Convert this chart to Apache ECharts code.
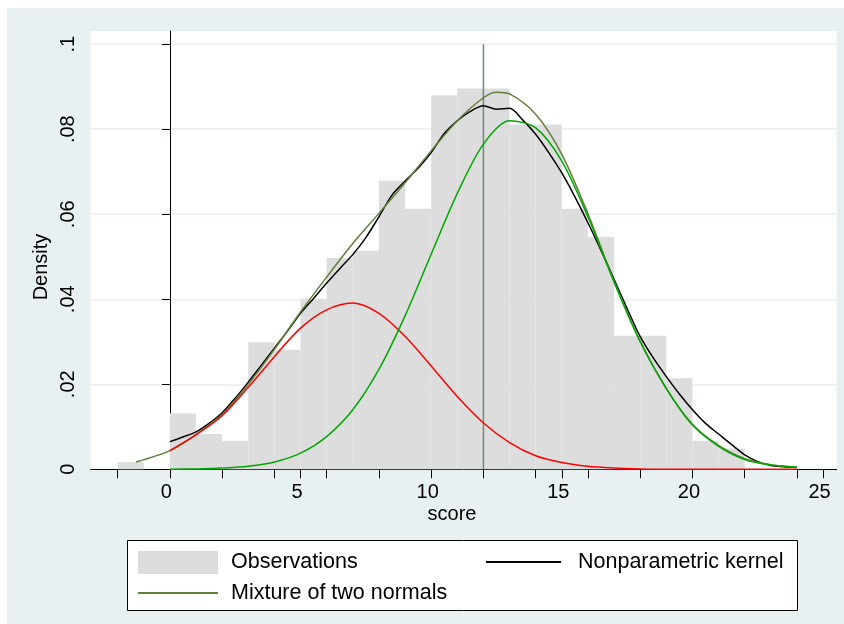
<!DOCTYPE html>
<html>
<head>
<meta charset="utf-8">
<script src="https://cdn.jsdelivr.net/npm/echarts@6/dist/echarts.min.js"></script>
<style>
html,body{margin:0;padding:0;background:#ffffff;}
#wrap{position:relative;width:844px;height:624px;background:#ffffff;}
#bg{position:absolute;left:7px;top:8px;right:0;bottom:0;background:#E9F0F2;}
#chart{position:absolute;left:0;top:0;width:844px;height:624px;}
</style>
</head>
<body>
<div id="wrap"><div id="bg"></div><div id="chart"></div></div>
<script>
// Histogram bins (score), density heights
const binLeft   = [-2, 0, 1, 2, 3, 4, 5, 6, 7, 8, 9, 10, 11, 12, 13, 14, 15, 16, 17, 18, 19, 20, 21];
const binRight  = [-1, 1, 2, 3, 4, 5, 6, 7, 8, 9, 10, 11, 12, 13, 14, 15, 16, 17, 18, 19, 20, 21, 22];
const binHeight = [0.0017, 0.0132, 0.0083, 0.0067, 0.0299, 0.0281, 0.0401, 0.0497, 0.0514, 0.0679, 0.0613,
                   0.0880, 0.0896, 0.0896, 0.0811, 0.0811, 0.0613, 0.0547, 0.0314, 0.0314, 0.0214, 0.0067, 0.0049];

// Nonparametric kernel density
const kernelX = [0, 0.5, 1, 1.5, 2, 2.5, 3, 3.5, 4, 4.5, 5, 5.5, 6, 6.5, 7, 7.5, 8, 8.5, 9, 9.5, 10, 10.5, 11, 11.5,
                 12, 12.5, 13, 13.5, 14, 14.5, 15, 15.5, 16, 16.5, 17, 17.5, 18, 18.5, 19, 19.5, 20, 20.5, 21, 21.5,
                 22, 22.5, 23, 23.5, 24];
const kernelY = [0.0065, 0.0076, 0.0088, 0.0108, 0.0133, 0.0167, 0.0205, 0.0245, 0.0285, 0.0325, 0.0367, 0.0402,
                 0.0438, 0.0472, 0.0505, 0.0545, 0.0594, 0.0645, 0.0678, 0.0708, 0.0745, 0.0790, 0.0820, 0.0842,
                 0.0855, 0.0847, 0.0849, 0.0822, 0.0788, 0.0745, 0.0697, 0.0641, 0.0580, 0.0515, 0.0447, 0.0378,
                 0.0312, 0.0262, 0.0218, 0.0177, 0.0140, 0.0108, 0.0083, 0.0058, 0.0034, 0.0018, 0.0009, 0.0006, 0.0004];

// Mixture of two normals
const mixtureX = [-1.3, 0, 1, 2, 3, 4, 5, 6, 7, 8, 9, 10, 11, 12, 12.5, 13, 14, 15, 16, 17, 18, 19, 20, 21, 22, 23, 24];
const mixtureY = [0.0017, 0.0044, 0.0082, 0.0129, 0.0200, 0.0282, 0.0370, 0.0452, 0.0531, 0.0602, 0.0674, 0.0749,
                  0.0820, 0.0874, 0.0887, 0.0883, 0.0835, 0.0741, 0.0601, 0.0443, 0.0301, 0.0190, 0.0106, 0.0056,
                  0.0025, 0.0011, 0.0005];

// Components
const compX  = [0, 1, 2, 3, 4, 5, 6, 7, 8, 9, 10, 11, 12, 13, 14, 15, 16, 17, 18, 19, 20, 21, 22, 23, 24];
const comp1Y = [0.0044, 0.0081, 0.0126, 0.0193, 0.0265, 0.0332, 0.0375, 0.0391, 0.0367, 0.0313, 0.0243, 0.0171,
                0.0109, 0.0063, 0.0032, 0.0016, 0.0007, 0.0003, 0.0001, 0, 0, 0, 0, 0, 0];
const comp2Y = [0.0000, 0.0001, 0.0003, 0.0007, 0.0017, 0.0038, 0.0077, 0.0140, 0.0235, 0.0361, 0.0506, 0.0649,
                0.0765, 0.0820, 0.0803, 0.0725, 0.0594, 0.0440, 0.0300, 0.0190, 0.0104, 0.0054, 0.0023, 0.0010, 0.0005];

const meanLineX = 12;
const yTicks = [0, 0.02, 0.04, 0.06, 0.08, 0.1];
const xLabels = [0, 5, 10, 15, 20, 25];
const xTicks = [-2, 0, 2, 4, 5, 6, 8, 10, 12, 14, 15, 16, 18, 20, 22, 24, 25];

const FONT = '"Liberation Sans", Arial, sans-serif';
const zip = (xs, ys) => xs.map((x, i) => [x, ys[i]]);
const noSymbol = {color: 'rgba(0,0,0,0)', borderColor: 'rgba(0,0,0,0)', borderWidth: 0, opacity: 0};

const chart = echarts.init(document.getElementById('chart'), null, {renderer: 'canvas'});
chart.setOption({
  backgroundColor: 'transparent',
  animation: false,
  textStyle: {fontFamily: FONT},
  grid: {left: 90.7, right: 7.3, top: 31, bottom: 154.7, show: true, backgroundColor: '#ffffff', borderWidth: 0},
  xAxis: {
    type: 'value', min: -3.03, max: 25.52,
    axisLine: {show: true, onZero: false, lineStyle: {color: '#000', width: 1}},
    axisTick: {show: true, inside: false, length: 9, customValues: xTicks, lineStyle: {color: '#000', width: 1}},
    axisLabel: {customValues: xLabels, fontFamily: FONT, fontSize: 20, color: '#000', margin: 13, padding: [0, 7, 0, 0]},
    splitLine: {show: false}
  },
  yAxis: {
    type: 'value', min: 0, max: 0.1031,
    axisLine: {show: true, lineStyle: {color: '#000', width: 1}},
    axisTick: {show: true, length: 8, customValues: yTicks, lineStyle: {color: '#000', width: 1}},
    axisLabel: {customValues: yTicks, rotate: 90, fontFamily: FONT, fontSize: 20, color: '#000', margin: 12,
      formatter: v => (v === 0 ? '0' : String(+v.toFixed(2)).replace(/^0\./, '.'))},
    splitLine: {show: true, lineStyle: {color: '#E6EEF0', width: 1.5}}
  },
  legend: [
    {
      orient: 'vertical', left: 137, top: 551, padding: 0, itemWidth: 80, itemHeight: 23, itemGap: 8,
      textStyle: {fontFamily: FONT, fontSize: 21.5, color: '#000', padding: [0, 0, 0, 8]},
      data: [{name: 'Observations', icon: 'rect'}, {name: 'Mixture of two normals', itemStyle: noSymbol}],
      selectedMode: false
    },
    {
      orient: 'vertical', left: 485, top: 551, padding: 0, itemWidth: 75, itemHeight: 23, itemGap: 8,
      textStyle: {fontFamily: FONT, fontSize: 21.5, color: '#000', padding: [0, 0, 0, 12]},
      data: [{name: 'Nonparametric kernel', itemStyle: noSymbol}],
      selectedMode: false
    }
  ],
  graphic: [
    {type: 'rect', left: 127, top: 540, z: 0, shape: {width: 670, height: 70},
     style: {fill: '#ffffff', stroke: '#000000', lineWidth: 1}},
    {type: 'text', x: 41, y: 267, rotation: Math.PI / 2, z: 5,
     style: {text: 'Density', fontFamily: FONT, fontSize: 20, fill: '#000', align: 'center', verticalAlign: 'middle'}},
    {type: 'text', x: 452, y: 514, z: 5,
     style: {text: 'score', fontFamily: FONT, fontSize: 20, fill: '#000', align: 'center', verticalAlign: 'middle'}}
  ],
  series: [
    {
      name: 'Observations', type: 'custom', z: 1,
      itemStyle: {color: '#DDDDDD'},
      data: binLeft.map((l, i) => [l, binRight[i], binHeight[i]]),
      encode: {x: [0, 1], y: 2},
      renderItem: (params, api) => {
        const p0 = api.coord([api.value(0), api.value(2)]);
        const p1 = api.coord([api.value(1), 0]);
        return {type: 'rect', shape: {x: p0[0], y: p0[1], width: p1[0] - p0[0], height: p1[1] - p0[1]},
                style: {fill: '#DDDDDD'}};
      }
    },
    {
      name: 'mean', type: 'line', z: 2, symbol: 'none', silent: true,
      data: [[meanLineX, 0], [meanLineX, 0.1]],
      lineStyle: {color: '#6E8A80', width: 1.5}
    },
    {
      name: 'Nonparametric kernel', type: 'line', z: 3, symbol: 'none', smooth: 0.3,
      data: zip(kernelX, kernelY), color: '#000000',
      lineStyle: {color: '#000000', width: 1.5}
    },
    {
      name: 'Mixture of two normals', type: 'line', z: 4, symbol: 'none', smooth: 0.3,
      data: zip(mixtureX, mixtureY), color: '#5F7F3A',
      lineStyle: {color: '#5F7F3A', width: 1.5}
    },
    {
      name: 'Component 1', type: 'line', z: 5, symbol: 'none', smooth: 0.3,
      data: zip(compX, comp1Y), color: '#FF0000',
      lineStyle: {color: '#FF0000', width: 1.5}
    },
    {
      name: 'Component 2', type: 'line', z: 5, symbol: 'none', smooth: 0.3,
      data: zip(compX, comp2Y), color: '#00A800',
      lineStyle: {color: '#00A800', width: 1.5}
    }
  ]
});
</script>
</body>
</html>
